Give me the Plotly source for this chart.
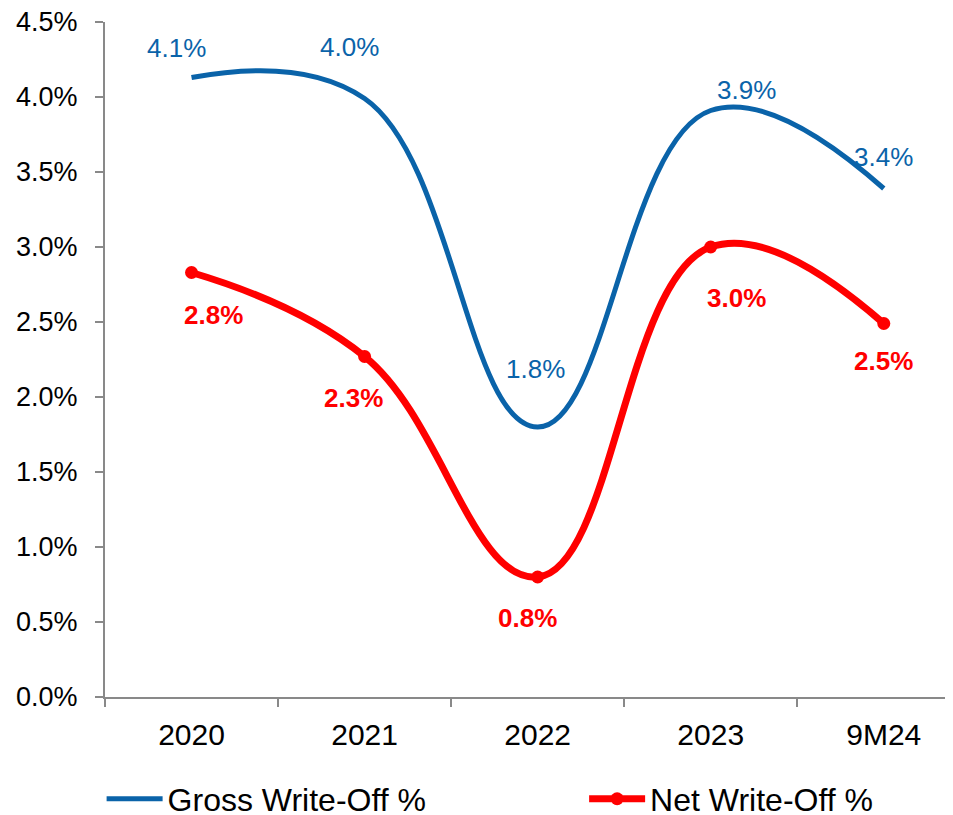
import plotly.graph_objects as go

categories = ["2020", "2021", "2022", "2023", "9M24"]
gross_write_off = [0.0413, 0.0399, 0.0180, 0.0391, 0.0339]
net_write_off = [0.0283, 0.0227, 0.0080, 0.0300, 0.0249]
gross_labels = ["4.1%", "4.0%", "1.8%", "3.9%", "3.4%"]
net_labels = ["2.8%", "2.3%", "0.8%", "3.0%", "2.5%"]
y_ticks = [0, 0.005, 0.01, 0.015, 0.02, 0.025, 0.03, 0.035, 0.04, 0.045]

BLUE = "#0A63A9"
RED = "#FF0000"
FONT = "Liberation Sans, Arial, sans-serif"

# label offsets (pixels) relative to each point
gross_off = [(-15, 30), (-15, 52), (-2, 58), (36, 21), (0, 32)]
net_off = [(22, -42), (-11, -41), (-10, -41), (26, -51), (0, -37)]

fig = go.Figure()
fig.add_trace(go.Scatter(
    x=categories, y=gross_write_off, name="Gross Write-Off %", legend="legend",
    mode="lines", line=dict(color=BLUE, width=5, shape="spline", smoothing=1.2),
))
fig.add_trace(go.Scatter(
    x=categories, y=net_write_off, name="Net Write-Off %", legend="legend2",
    mode="lines+markers", line=dict(color=RED, width=7, shape="spline", smoothing=1.2),
    marker=dict(color=RED, size=13),
))

for i, (v, t, (dx, dy)) in enumerate(zip(gross_write_off, gross_labels, gross_off)):
    fig.add_annotation(x=i, y=v, text=t, showarrow=False, xshift=dx, yshift=dy,
                       font=dict(family=FONT, size=26, color=BLUE))
for i, (v, t, (dx, dy)) in enumerate(zip(net_write_off, net_labels, net_off)):
    fig.add_annotation(x=i, y=v, text="<b>%s</b>" % t, showarrow=False, xshift=dx, yshift=dy,
                       font=dict(family=FONT, size=26, color=RED))

legend_common = dict(orientation="h", xanchor="left", y=-0.151, yanchor="middle",
                     font=dict(family=FONT, size=32, color="black"),
                     itemwidth=56, bgcolor="rgba(0,0,0,0)")

fig.update_layout(
    width=945, height=807,
    margin=dict(l=97, r=0, t=14, b=118, autoexpand=False),
    paper_bgcolor="white", plot_bgcolor="white",
    font=dict(family=FONT, color="black"),
    showlegend=True,
    legend=dict(x=-0.004, **legend_common),
    legend2=dict(x=0.565, **legend_common),
    xaxis=dict(
        type="category", range=[-0.5, 4.4], showgrid=False, zeroline=False,
        showline=True, linecolor="#898989", linewidth=2, automargin=False,
        ticks="outside", tickson="boundaries", ticklen=8, tickcolor="#898989", tickwidth=2,
        tickfont=dict(family=FONT, size=30, color="black"), ticklabelstandoff=10,
        ticklabeloverflow="allow",
    ),
    yaxis=dict(
        range=[0, 0.045], tickvals=y_ticks, tickformat=".1%", showgrid=False, zeroline=False,
        showline=True, linecolor="#898989", linewidth=2, automargin=False,
        ticks="outside", ticklen=8, tickcolor="#898989", tickwidth=2,
        tickfont=dict(family=FONT, size=27, color="black"), ticklabelstandoff=12,
        ticklabeloverflow="allow",
    ),
)

fig.write_html("out.html")
